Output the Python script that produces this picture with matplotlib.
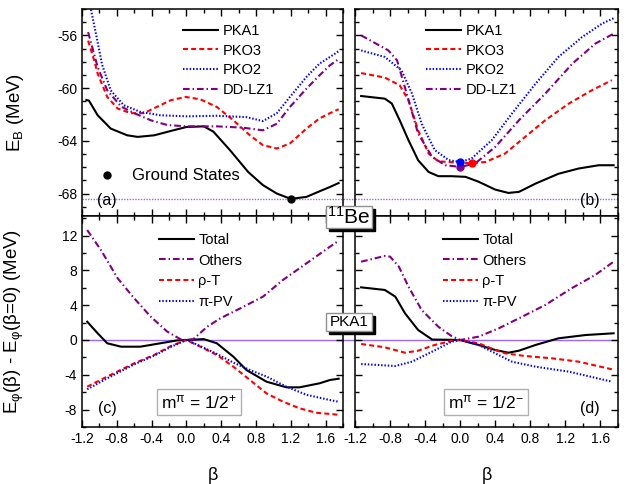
import matplotlib
matplotlib.use('Agg')
import matplotlib.pyplot as plt
from matplotlib.ticker import MultipleLocator
from matplotlib.patches import Rectangle

plt.rcParams['font.family'] = ['Liberation Sans', 'DejaVu Sans']
plt.rcParams['mathtext.fontset'] = 'custom'
plt.rcParams['mathtext.rm'] = 'Liberation Sans'
plt.rcParams['mathtext.it'] = 'Liberation Sans:italic'
plt.rcParams['mathtext.default'] = 'regular'
plt.rcParams['axes.unicode_minus'] = False

# (a) m = 1/2+ , E_B (MeV) vs beta
a_pka1_b = [-1.15, -1.12, -1.02, -0.87, -0.68, -0.56, -0.37, -0.15, 0.0, 0.2, 0.31, 0.5, 0.71, 0.88, 1.04, 1.2, 1.38, 1.54, 1.65, 1.75]
a_pka1_e = [-60.9, -60.95, -62.06, -63.07, -63.58, -63.7, -63.58, -63.2, -62.95, -62.9, -63.3, -64.7, -66.36, -67.36, -68.0, -68.4, -68.25, -67.8, -67.5, -67.2]
a_pko3_b = [-1.13, -1.06, -1.02, -0.91, -0.79, -0.64, -0.49, -0.34, -0.18, -0.01, 0.16, 0.35, 0.54, 0.73, 0.88, 1.04, 1.19, 1.38, 1.53, 1.65, 1.75]
a_pko3_e = [-56.4, -57.9, -58.9, -60.67, -61.55, -61.9, -61.9, -61.43, -60.92, -60.67, -60.85, -61.43, -62.44, -63.58, -64.33, -64.58, -64.2, -63.07, -62.3, -61.9, -61.6]
a_pko2_b = [-1.12, -1.03, -0.97, -0.87, -0.72, -0.53, -0.30, 0.0, 0.35, 0.69, 0.88, 1.04, 1.19, 1.38, 1.53, 1.65, 1.75]
a_pko2_e = [-53.3, -56.2, -58.2, -60.17, -61.3, -61.8, -62.06, -62.14, -62.1, -62.2, -62.5, -61.9, -60.67, -59.15, -58.14, -57.64, -57.2]
a_ddlz1_b = [-1.13, -1.07, -1.02, -0.91, -0.75, -0.60, -0.41, -0.22, 0.0, 0.35, 0.65, 0.88, 1.04, 1.19, 1.38, 1.53, 1.65, 1.75]
a_ddlz1_e = [-55.75, -57.2, -58.4, -60.17, -61.4, -61.9, -62.44, -62.8, -62.9, -62.9, -63.0, -63.2, -62.7, -61.43, -60.04, -59.03, -58.27, -57.8]

# (b) m = 1/2-
b_pka1_b = [-1.13, -0.86, -0.78, -0.69, -0.59, -0.48, -0.36, -0.25, -0.10, 0.06, 0.21, 0.40, 0.55, 0.67, 0.86, 1.12, 1.35, 1.58, 1.75]
b_pka1_e = [-60.6, -60.8, -61.17, -62.44, -63.95, -65.47, -66.36, -66.68, -66.68, -66.73, -67.1, -67.7, -67.95, -67.87, -67.24, -66.5, -66.1, -65.85, -65.85]
b_pko3_b = [-1.13, -0.86, -0.69, -0.59, -0.48, -0.36, -0.25, -0.10, 0.13, 0.29, 0.51, 0.74, 0.97, 1.24, 1.50, 1.73]
b_pko3_e = [-58.86, -59.2, -59.79, -60.92, -63.2, -64.97, -65.55, -65.62, -65.7, -65.6, -64.97, -63.7, -62.44, -61.17, -60.17, -59.4]
b_pko2_b = [-1.13, -0.86, -0.67, -0.55, -0.44, -0.29, -0.13, 0.0, 0.13, 0.36, 0.59, 0.86, 1.12, 1.39, 1.62, 1.75]
b_pko2_e = [-57.14, -57.64, -58.65, -60.42, -62.7, -64.7, -65.47, -65.6, -65.34, -63.95, -61.93, -59.66, -57.64, -56.13, -55.1, -54.7]
b_ddlz1_b = [-1.13, -0.82, -0.72, -0.61, -0.48, -0.32, -0.17, 0.0, 0.17, 0.40, 0.67, 0.97, 1.28, 1.54, 1.75]
b_ddlz1_e = [-56.0, -57.14, -57.9, -60.42, -63.45, -65.22, -65.85, -65.98, -65.72, -64.46, -62.44, -60.42, -58.14, -56.63, -55.87]

# ground states (beta, E_B)
gs_a = (1.2, -68.4)
gs_b_pko3 = (0.13, -65.7)
gs_b_pko2 = (0.0, -65.6)
gs_b_ddlz1 = (0.0, -65.98)
gs_line = -68.4

# (c) PKA1 decomposition, m = 1/2+
c_tot_b = [-1.14, -1.02, -0.91, -0.75, -0.53, -0.30, -0.11, 0.0, 0.2, 0.35, 0.54, 0.69, 0.92, 1.15, 1.30, 1.53, 1.65, 1.75]
c_tot_v = [2.1, 0.77, -0.38, -0.77, -0.77, -0.38, -0.05, 0.0, 0.1, -0.38, -1.92, -3.45, -4.79, -5.44, -5.44, -4.98, -4.6, -4.45]
c_oth_b = [-1.14, -0.98, -0.79, -0.60, -0.41, -0.22, -0.07, 0.0, 0.08, 0.24, 0.39, 0.62, 0.88, 1.11, 1.38, 1.65, 1.75]
c_oth_v = [12.64, 10.3, 7.09, 4.79, 2.68, 0.96, 0.1, 0.0, 0.1, 1.53, 2.49, 3.64, 4.98, 6.9, 8.81, 10.72, 11.4]
c_rho_b = [-1.14, -0.91, -0.60, -0.37, -0.18, 0.0, 0.16, 0.35, 0.54, 0.73, 0.92, 1.11, 1.30, 1.49, 1.65, 1.75]
c_rho_v = [-5.37, -4.2, -2.68, -1.72, -0.7, 0.0, -0.77, -1.72, -3.07, -4.6, -6.13, -7.09, -7.85, -8.36, -8.5, -8.6]
c_pi_b = [-1.14, -0.91, -0.60, -0.37, -0.18, 0.0, 0.16, 0.35, 0.54, 0.73, 0.92, 1.15, 1.38, 1.65, 1.75]
c_pi_v = [-5.67, -4.4, -2.8, -1.8, -0.8, 0.0, -0.7, -1.6, -2.6, -3.45, -4.2, -5.37, -6.3, -6.9, -7.1]

# (d) PKA1 decomposition, m = 1/2-
d_tot_b = [-1.13, -0.86, -0.74, -0.63, -0.48, -0.32, -0.10, 0.0, 0.21, 0.40, 0.55, 0.67, 0.86, 1.12, 1.43, 1.75]
d_tot_v = [6.05, 5.75, 4.98, 3.07, 1.15, 0.05, 0.02, 0.0, -0.57, -1.15, -1.46, -1.23, -0.57, 0.19, 0.57, 0.77]
d_oth_b = [-1.13, -0.86, -0.80, -0.70, -0.59, -0.44, -0.25, -0.10, 0.0, 0.21, 0.44, 0.67, 0.97, 1.27, 1.54, 1.75]
d_oth_v = [9.0, 9.66, 9.58, 8.43, 6.13, 3.45, 1.53, 0.46, 0.0, 0.38, 1.34, 2.49, 4.02, 5.94, 7.47, 9.0]
d_rho_b = [-1.13, -0.86, -0.63, -0.48, -0.29, -0.10, 0.0, 0.21, 0.40, 0.51, 0.74, 1.05, 1.35, 1.73]
d_rho_v = [-0.46, -0.84, -1.46, -1.23, -0.57, -0.11, 0.0, -0.38, -1.15, -1.53, -1.84, -2.11, -2.49, -3.37]
d_pi_b = [-1.13, -0.74, -0.55, -0.32, -0.10, 0.0, 0.21, 0.40, 0.59, 0.86, 1.24, 1.73]
d_pi_v = [-2.76, -2.99, -2.49, -1.34, -0.2, 0.0, -0.57, -1.53, -2.49, -3.07, -3.64, -4.79]

W, H = 635, 484
fig = plt.figure(figsize=(W / 100, H / 100), dpi=100)

def px_box(l, r, t, b):
    return [l / W, 1 - b / H, (r - l) / W, (b - t) / H]

ax_a = fig.add_axes(px_box(82, 343, 9, 216))
ax_b = fig.add_axes(px_box(355, 618, 9, 216))
ax_c = fig.add_axes(px_box(82, 343, 216, 427))
ax_d = fig.add_axes(px_box(355, 618, 216, 427))

RED, BLUE, PURP, HL = '#ff0000', '#0000ff', '#800080', '#9966ff'
sty = {
    'k': dict(color='black', lw=1.5, ls='-'),
    'r': dict(color=RED, lw=1.5, ls=(0, (2.4, 1.5))),
    'b': dict(color=BLUE, lw=1.5, ls=(0, (0.7, 0.9))),
    'p': dict(color=PURP, lw=1.5, ls=(0, (3.2, 1.4, 0.7, 1.4))),
}

for ax in (ax_a, ax_b, ax_c, ax_d):
    ax.set_xlim(-1.2, 1.8)
    ax.xaxis.set_major_locator(MultipleLocator(0.4))
    ax.xaxis.set_minor_locator(MultipleLocator(0.2))
    ax.tick_params(which='both', direction='in', top=True, right=True, labelsize=10, width=1)
    ax.tick_params(which='major', length=5)
    ax.tick_params(which='minor', length=3)
    for s in ax.spines.values():
        s.set_linewidth(1.1)

for ax in (ax_a, ax_b):
    ax.set_ylim(-69.7, -54.0)
    ax.yaxis.set_major_locator(MultipleLocator(4))
    ax.yaxis.set_minor_locator(MultipleLocator(1))
    ax.tick_params(labelbottom=False)
for ax in (ax_c, ax_d):
    ax.set_ylim(-10, 14.25)
    ax.yaxis.set_major_locator(MultipleLocator(4))
    ax.yaxis.set_minor_locator(MultipleLocator(2))
    ax.set_xlabel('β', fontsize=13, labelpad=15)
for ax in (ax_b, ax_d):
    ax.tick_params(labelleft=False)

ax_a.set_ylabel('E$_\\mathrm{B}$ (MeV)', fontsize=13.5)
ax_a.yaxis.set_label_coords(-0.215, 0.5)
ax_c.set_ylabel('E$_\\mathrm{φ}$(β) - E$_\\mathrm{φ}$(β=0) (MeV)', fontsize=13.5)
ax_c.yaxis.set_label_coords(-0.215, 0.5)

# reference lines
ax_a.axhline(gs_line, xmin=0, xmax=1.05, color=HL, lw=1, ls=(0, (1, 1)), clip_on=False, zorder=1)
ax_b.axhline(gs_line, color=HL, lw=1, ls=(0, (1, 1)), zorder=1)
ax_c.axhline(0, xmin=0, xmax=1.05, color=HL, lw=1, clip_on=False, zorder=1)
ax_d.axhline(0, color=HL, lw=1, zorder=1)

# (a)
ax_a.plot(a_pka1_b, a_pka1_e, label='PKA1', **sty['k'])
ax_a.plot(a_pko3_b, a_pko3_e, label='PKO3', **sty['r'])
ax_a.plot(a_pko2_b, a_pko2_e, label='PKO2', **sty['b'])
ax_a.plot(a_ddlz1_b, a_ddlz1_e, label='DD-LZ1', **sty['p'])
ax_a.plot(*gs_a, 'o', color='black', ms=5, zorder=5)

# (b)
ax_b.plot(b_pka1_b, b_pka1_e, label='PKA1', **sty['k'])
ax_b.plot(b_pko3_b, b_pko3_e, label='PKO3', **sty['r'])
ax_b.plot(b_pko2_b, b_pko2_e, label='PKO2', **sty['b'])
ax_b.plot(b_ddlz1_b, b_ddlz1_e, label='DD-LZ1', **sty['p'])
ax_b.plot(*gs_b_pko3, 'o', color=RED, ms=5, zorder=5)
ax_b.plot(*gs_b_ddlz1, 'o', color=PURP, ms=5, zorder=5)
ax_b.plot(*gs_b_pko2, 'o', color=BLUE, ms=5, zorder=6)

# (c)
ax_c.plot(c_tot_b, c_tot_v, label='Total', **sty['k'])
ax_c.plot(c_oth_b, c_oth_v, label='Others', **sty['p'])
ax_c.plot(c_rho_b, c_rho_v, label='ρ-T', **sty['r'])
ax_c.plot(c_pi_b, c_pi_v, label='π-PV', **sty['b'])

# (d)
ax_d.plot(d_tot_b, d_tot_v, label='Total', **sty['k'])
ax_d.plot(d_oth_b, d_oth_v, label='Others', **sty['p'])
ax_d.plot(d_rho_b, d_rho_v, label='ρ-T', **sty['r'])
ax_d.plot(d_pi_b, d_pi_v, label='π-PV', **sty['b'])

def put_legend(ax, x, y, sp):
    ax.legend(loc='upper left', bbox_to_anchor=(x / W, 1 - y / H), bbox_transform=fig.transFigure,
              frameon=False, fontsize=10.5, handlelength=2.4, handletextpad=0.3,
              labelspacing=sp, borderpad=0, borderaxespad=0)

put_legend(ax_a, 183, 24, 0.38)
put_legend(ax_b, 426, 24, 0.38)
put_legend(ax_c, 159, 233, 0.45)
put_legend(ax_d, 443, 233, 0.45)

# panel labels and annotations
def ftext(x, y, s, **kw):
    return fig.text(x / W, 1 - y / H, s, **kw)

ftext(107, 200, '(a)', fontsize=11.5, ha='center', va='center')
ftext(590, 200, '(b)', fontsize=11.5, ha='center', va='center')
ftext(107, 408, '(c)', fontsize=11.5, ha='center', va='center')
ftext(590, 408, '(d)', fontsize=11.5, ha='center', va='center')

ax_a.plot([107 / W], [1 - 175 / H], 'o', color='black', ms=5, transform=fig.transFigure, clip_on=False)
ftext(132, 175, 'Ground States', fontsize=12, ha='left', va='center')

mbox = dict(boxstyle='square,pad=0.25', fc='white', ec='#b0b0b0', lw=1)
ftext(199, 402, 'm$^{\\mathrm{π}}$ = 1/2$^{+}$', fontsize=12.5, ha='center', va='center', bbox=mbox)
ftext(486, 402, 'm$^{\\mathrm{π}}$ = 1/2$^{-}$', fontsize=12.5, ha='center', va='center', bbox=mbox)

def shadow_box(l, t, r, b, s, size):
    w, h = (r - l) / W, (b - t) / H
    fig.patches.append(Rectangle(((l + 3) / W, 1 - (b + 3) / H), w, h, transform=fig.transFigure,
                                 fc='black', ec='black', zorder=10))
    fig.patches.append(Rectangle((l / W, 1 - b / H), w, h, transform=fig.transFigure,
                                 fc='white', ec='#909090', lw=1, zorder=11))
    ftext((l + r) / 2, (t + b) / 2, s, fontsize=size, ha='center', va='center', zorder=12)

shadow_box(326, 206, 372, 228, '$^{11}$Be', 15)
shadow_box(326, 313, 372, 331, 'PKA1', 11)

fig.savefig('out.png', dpi=100)
